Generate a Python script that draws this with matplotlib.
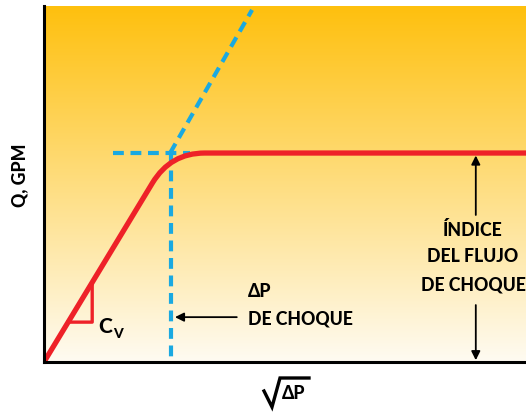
import matplotlib
matplotlib.use("Agg")
import matplotlib.pyplot as plt
import numpy as np
from matplotlib.path import Path
from matplotlib.patches import PathPatch
from matplotlib.lines import Line2D

plt.rcParams["font.family"] = ["Lato", "DejaVu Sans"]
W = "black"

# curve: straight rise, rounded knee, flat choked flow
red_x = [0.0, 2.7, 3.15, 4.0, 12.0]
red_y = [0.0, 5.03, 5.87, 5.87, 5.87]
red_codes = [Path.MOVETO, Path.LINETO, Path.CURVE3, Path.CURVE3, Path.LINETO]

# dashed construction lines
diag_x = [3.14, 5.18]
diag_y = [5.87, 9.89]
horiz_x = [1.72, 3.63]
horiz_y = [5.87, 5.87]
vert_x = [3.16, 3.16]
vert_y = [5.87, 0.0]

# slope triangle
tri_x = [0.6, 1.2, 1.2]
tri_y = [1.12, 1.12, 2.24]

red = "#ee2128"
blue = "#1aa9e1"

fig = plt.figure(figsize=(5.26, 4.12), dpi=100)
ax = fig.add_axes([44 / 526, 50 / 412, 482 / 526, 356 / 412])
ax.set_xlim(0, 12)
ax.set_ylim(0, 10)

# background gradient
top = np.array([254, 192, 14]) / 255
bot = np.array([255, 251, 242]) / 255
t = np.linspace(0, 1, 256)[:, None]
grad = (top * (1 - t) + bot * t)[:, None, :]
ax.imshow(grad, extent=[0, 12, 0, 10], aspect="auto", zorder=0, origin="upper")

dash = (0, (2.6, 1.6))
ax.plot(diag_x, diag_y, color=blue, lw=3, ls=dash, zorder=2)
ax.plot(horiz_x, horiz_y, color=blue, lw=3, ls=dash, zorder=2)
ax.plot(vert_x, vert_y, color=blue, lw=3, ls=dash, zorder=2)

path = Path(np.column_stack([red_x, red_y]), red_codes)
ax.add_patch(PathPatch(path, fill=False, edgecolor=red, lw=3.8,
                       capstyle="butt", zorder=3))

ax.plot(tri_x + [tri_x[0]], tri_y + [tri_y[0]], color=red, lw=2.4, zorder=3)
ax.text(1.36, 1.0, "C", fontsize=15, fontweight=W, ha="left", va="center")
ax.text(1.71, 0.78, "V", fontsize=10, fontweight=W, ha="left", va="center")

arrow = dict(arrowstyle="-|>", color="black", lw=1.3, mutation_scale=13,
             shrinkA=0, shrinkB=0)
ax.annotate("", xy=(3.26, 1.26), xytext=(4.8, 1.26), arrowprops=arrow)
ax.text(5.08, 1.97, "ΔP", fontsize=12.7, fontweight=W, ha="left", va="center")
ax.text(5.08, 1.21, "DE CHOQUE", fontsize=12.7, fontweight=W, ha="left", va="center")

ax.annotate("", xy=(10.75, 5.8), xytext=(10.75, 4.13), arrowprops=arrow)
ax.annotate("", xy=(10.75, 0.05), xytext=(10.75, 1.6), arrowprops=arrow)
for yy, s in zip([3.71, 2.95, 2.16], ["ÍNDICE", "DEL FLUJO", "DE CHOQUE"]):
    ax.text(10.68, yy, s, fontsize=12.7, fontweight=W, ha="center", va="center")

for side in ["top", "right"]:
    ax.spines[side].set_visible(False)
for side in ["left", "bottom"]:
    ax.spines[side].set_linewidth(2.2)
    ax.spines[side].set_zorder(4)
ax.set_xticks([])
ax.set_yticks([])

fig.text(20 / 526, (412 - 175) / 412, "Q, GPM", rotation=90, fontsize=12.7,
         fontweight=W, ha="center", va="center")

# x label: radical sign drawn as a bold check stroke with overbar
fig.add_artist(Line2D([264 / 526, 272 / 526, 280 / 526, 309 / 526],
                      [(412 - 391) / 412, (412 - 407) / 412,
                       (412 - 378) / 412, (412 - 378) / 412],
                      color="black", lw=2.4, solid_joinstyle="miter"))
fig.text(282 / 526, (412 - 399) / 412, "ΔP", fontsize=12.7, fontweight=W,
         ha="left", va="baseline")

fig.savefig("out.png", dpi=100)
